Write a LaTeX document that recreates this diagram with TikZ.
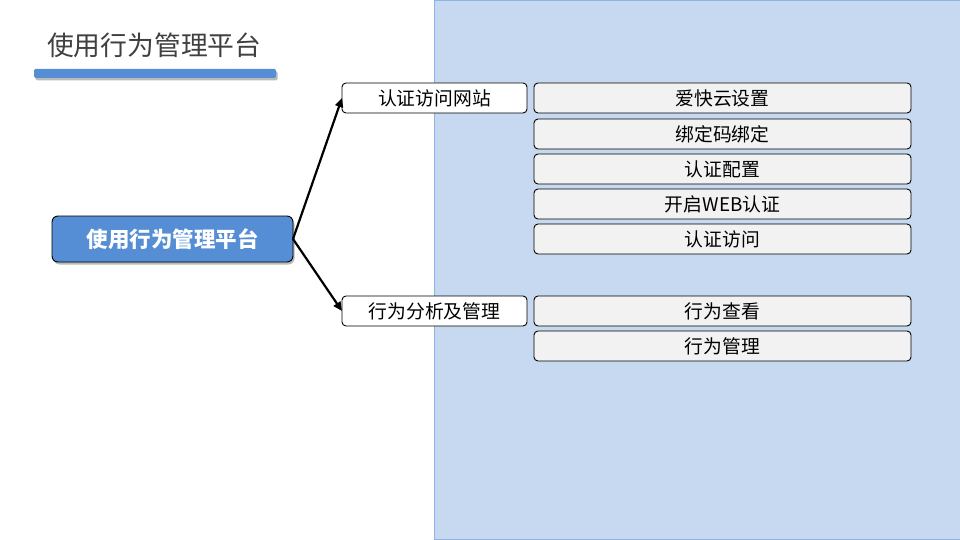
\documentclass[tikz,border=0pt]{standalone}
\usepackage{fontspec}
\setmainfont{Noto Sans CJK SC}
\usetikzlibrary{arrows.meta,shadows}
\definecolor{panelfill}{HTML}{C6D9F1}
\definecolor{panelline}{HTML}{8EB4E3}
\definecolor{accent}{HTML}{558ED5}
\definecolor{boxfill}{HTML}{F2F2F2}
\definecolor{titlegray}{HTML}{404040}
\tikzset{
  every node/.style={inner sep=0pt, outer sep=0pt},
  lvltwo/.style={draw=black, line width=0.9pt, fill=white, rounded corners=4pt, minimum width=185pt, minimum height=30pt, font=\fontsize{18.8}{21}\selectfont},
  lvlthree/.style={draw=black, line width=0.9pt, fill=boxfill, rounded corners=4pt, minimum width=377pt, minimum height=30pt, font=\fontsize{18.8}{21}\selectfont},
  conn/.style={line width=2.2pt, -{Triangle[length=9pt,width=8pt]}},
  shadowed/.style={drop shadow={shadow xshift=1.5pt, shadow yshift=-2.5pt, fill=black!45, opacity=0.6}}
}
\begin{document}
\begin{tikzpicture}[x=1pt,y=-1pt]
\useasboundingbox (0,0) rectangle (960,540);
\fill[white] (0,0) rectangle (960,540);
\draw[panelline, fill=panelfill, line width=1pt] (434.5,0.5) rectangle (961,539.5);
% title
\node[anchor=west, text=titlegray, font=\fontsize{26.8}{30}\selectfont] (title) at (47,45) {使用行为管理平台};
\node[fill=accent, minimum width=242pt, minimum height=9pt, rounded corners=1.5pt, shadowed] (bar) at (155,73.5) {};
% main node
\node[draw=black, line width=0.9pt, fill=accent, rounded corners=6pt, minimum width=241pt, minimum height=46pt, text=white, font=\fontsize{21.5}{24}\selectfont\bfseries, shadowed] (main) at (172.5,239) {使用行为管理平台};
% level two
\node[lvltwo] (a) at (434.5,98) {认证访问网站};
\node[lvltwo] (b) at (434.5,311) {行为分析及管理};
% level three
\node[lvlthree] (a1) at (722.5,98) {爱快云设置};
\node[lvlthree] (a2) at (722.5,134) {绑定码绑定};
\node[lvlthree] (a3) at (722.5,169) {认证配置};
\node[lvlthree] (a4) at (722.5,204) {开启WEB认证};
\node[lvlthree] (a5) at (722.5,239) {认证访问};
\node[lvlthree] (b1) at (722.5,311) {行为查看};
\node[lvlthree] (b2) at (722.5,346) {行为管理};
% connectors
\draw[conn] (main.east) -- (a.west);
\draw[conn] (main.east) -- (b.west);
\end{tikzpicture}
\end{document}
